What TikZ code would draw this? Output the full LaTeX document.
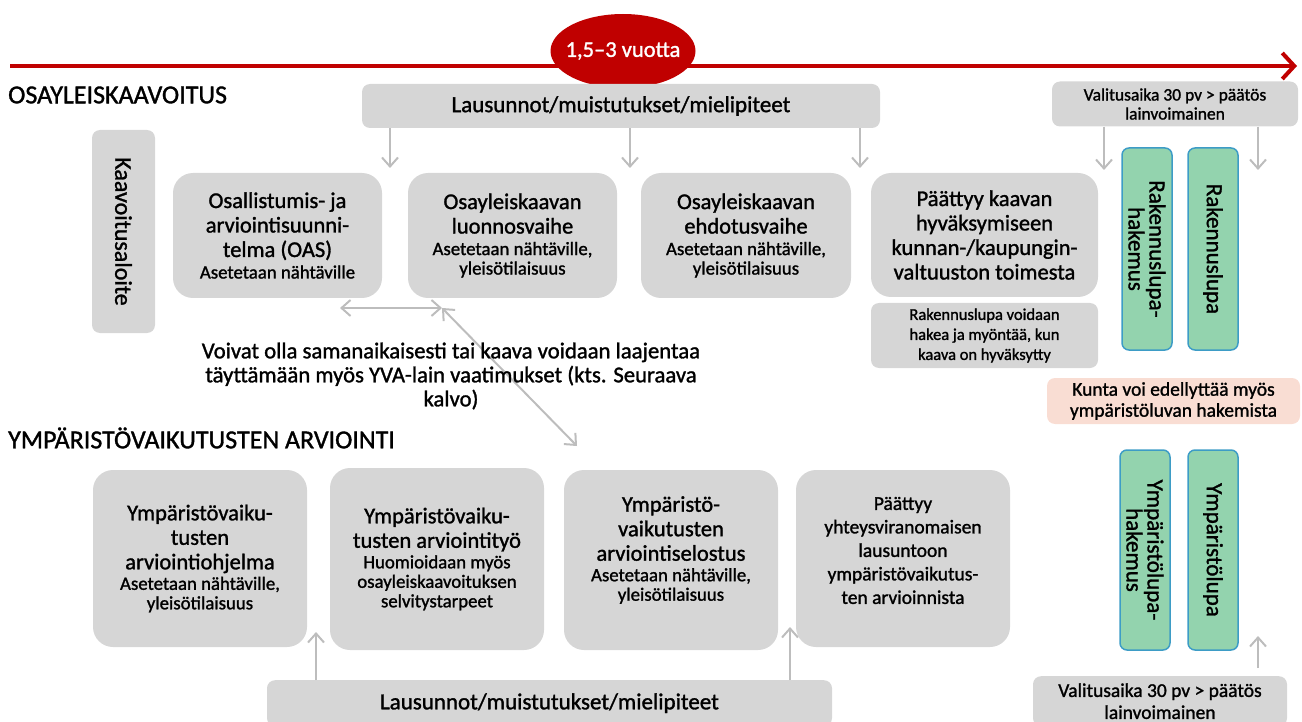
\documentclass[tikz,border=0pt]{standalone}
\usepackage{fontspec}
\setmainfont{Carlito}[FakeBold=1.3]
\usetikzlibrary{arrows.meta,shapes.geometric}
\definecolor{boxgray}{HTML}{D6D6D6}
\definecolor{argray}{HTML}{BDBDBD}
\definecolor{darkred}{HTML}{C00000}
\definecolor{greenfill}{HTML}{93D3AE}
\definecolor{greenline}{HTML}{3D9CC6}
\definecolor{pinkfill}{HTML}{F9DDD3}
\newcommand{\bigf}{\fontsize{22.5}{24.5}\selectfont}
\newcommand{\smf}{\fontsize{18.8}{20}\selectfont}
\tikzset{
  x=1pt, y=-1pt,
  bigbox/.style={fill=boxgray, rounded corners=20pt, align=center, inner sep=2pt, font=\bigf},
  boxtext/.style={align=center, inner sep=0pt, font=\bigf},
  flat/.style={fill=boxgray, rounded corners=8pt, align=center, inner sep=2pt},
  greenbox/.style={fill=greenfill, draw=greenline, line width=1.5pt, rounded corners=7pt, minimum width=50pt},
  pinkbox/.style={fill=pinkfill, rounded corners=8pt, align=center, inner sep=2pt},
  garrow/.style={draw=argray, line width=2pt, -{Straight Barb[length=9pt,width=16pt]}},
  gdarrow/.style={draw=argray, line width=2pt, {Straight Barb[length=9pt,width=16pt]}-{Straight Barb[length=9pt,width=16pt]}},
  heading/.style={font=\fontsize{26}{28}\selectfont, anchor=west, inner sep=0pt},
  vtext/.style={rotate=-90, align=center, font=\fontsize{23}{21}\selectfont, inner sep=0pt},
}
\begin{document}
\begin{tikzpicture}
\useasboundingbox (0,0) rectangle (1302,722);

% timeline
\coordinate (tlstart) at (10,66);
\coordinate (tlend) at (1297,66);
\draw[darkred, line width=4pt, -{Straight Barb[length=12pt,width=26pt,line width=4pt]}] (tlstart) -- (tlend);
\node[ellipse, fill=darkred, minimum width=145pt, minimum height=74pt, inner sep=0pt] (dur) at (623,51) {};
\node[text=white, inner sep=0pt, font=\fontsize{22.5}{22}\selectfont] (durT) at (dur) {1,5–3 vuotta};

% headings
\node[heading] (h1) at (8,95) {OSAYLEISKAAVOITUS};
\node[heading] (h2) at (8,438) {YMPÄRISTÖVAIKUTUSTEN ARVIOINTI};

% top row
\node[flat, minimum width=518pt, minimum height=44pt, font=\fontsize{23}{25}\selectfont] (lausTop) at (621,106) {Lausunnot/muistutukset/mielipiteet};
\node[flat, minimum width=246pt, minimum height=45pt, font=\fontsize{17.5}{19}\selectfont] (valTop) at (1175,104) {Valitusaika 30 pv > päätös\\lainvoimainen};

\node[flat, minimum width=63pt, minimum height=203pt] (aloite) at (123.5,231.5) {};
\node[vtext, font=\fontsize{24}{21}\selectfont] (aloiteT) at (aloite) {Kaavoitusaloite};

\node[bigbox, minimum width=209pt, minimum height=125pt] (oas) at (277.5,235.5)
  {Osallistumis- ja\\arviointisuunni-\\telma (OAS)\\[-3pt]{\smf Asetetaan nähtäville}};
\node[bigbox, minimum width=209pt, minimum height=125pt] (luon) at (512.5,235.5)
  {Osayleiskaavan\\luonnosvaihe\\[-3pt]{\smf Asetetaan nähtäville,}\\[-5pt]{\smf yleisötilaisuus}};
\node[bigbox, minimum width=210pt, minimum height=125pt] (ehd) at (746,235.5)
  {Osayleiskaavan\\ehdotusvaihe\\[-3pt]{\smf Asetetaan nähtäville,}\\[-5pt]{\smf yleisötilaisuus}};
\node[bigbox, minimum width=227pt, minimum height=124pt] (paat) at (984.5,235)
  {Päättyy kaavan\\hyväksymiseen\\kunnan-/kaupungin-\\valtuuston toimesta};
\node[flat, minimum width=227pt, minimum height=65pt, font=\fontsize{16.5}{20}\selectfont] (rvoi) at (984.5,335.5)
  {Rakennuslupa voidaan\\hakea ja myöntää, kun\\kaava on hyväksytty};

\node[greenbox, minimum height=202pt] (rlh) at (1147,249) {};
\node[vtext] at (rlh) {Rakennuslupa-\\hakemus};
\node[greenbox, minimum height=202pt] (rl) at (1213,249) {};
\node[vtext] at (rl) {Rakennuslupa};

\node[pinkbox, minimum width=253pt, minimum height=46pt, font=\fontsize{19.5}{21}\selectfont] (kunta) at (1173.5,401)
  {Kunta voi edellyttää myös\\ympäristöluvan hakemista};

% arrows top
\coordinate (a1) at (390,168);
\coordinate (a2) at (630,168);
\coordinate (a3) at (860,168);
\draw[garrow] (lausTop.south -| a1) -- (a1);
\draw[garrow] (lausTop.south -| a2) -- (a2);
\draw[garrow] (lausTop.south -| a3) -- (a3);
\coordinate (a4) at (1104,170);
\coordinate (a5) at (1258,170);
\draw[garrow] (valTop.south -| a4) -- (a4);
\draw[garrow] (valTop.south -| a5) -- (a5);

% link arrows
\coordinate (lkL) at (340,308);
\coordinate (lkM) at (442,308);
\coordinate (lkB) at (577,446);
\draw[gdarrow] (lkL) -- (lkM);
\draw[gdarrow] (lkM) -- (lkB);

\node[align=center, font=\fontsize{22.7}{24}\selectfont, inner sep=0pt] (note) at (451,376)
  {Voivat olla samanaikaisesti tai kaava voidaan laajentaa\\täyttämään myös YVA-lain vaatimukset (kts. Seuraava\\kalvo)};

% bottom row
\node[bigbox, minimum width=214pt, minimum height=177pt] (b1) at (200,558.5)
  {Ympäristövaiku-\\tusten\\arviointiohjelma\\[-4pt]{\smf Asetetaan nähtäville,}\\[-5pt]{\smf yleisötilaisuus}};
\node[bigbox, minimum width=214pt, minimum height=182pt] (b2) at (437,559)
  {Ympäristövaiku-\\tusten arviointityö\\[-4pt]{\smf Huomioidaan myös}\\[-5pt]{\smf osayleiskaavoituksen}\\[-5pt]{\smf selvitystarpeet}};
\node[bigbox, minimum width=214pt, minimum height=180pt] (b3) at (671,560) {};
\node[boxtext] (b3t) at ([yshift=10pt]b3.center)
  {Ympäristö-\\vaikutusten\\arviointiselostus\\[-4pt]{\smf Asetetaan nähtäville,}\\[-5pt]{\smf yleisötilaisuus}};
\node[bigbox, minimum width=214pt, minimum height=177pt] (b4) at (903,558.5) {};
\node[boxtext, font=\fontsize{19.5}{23.5}\selectfont] (b4t) at ([yshift=8pt]b4.center)
  {Päättyy\\yhteysviranomaisen\\lausuntoon\\ympäristövaikutus-\\ten arvioinnista};

\node[flat, minimum width=565pt, minimum height=46pt, font=\fontsize{23}{25}\selectfont, anchor=north] (lausBot) at (549.5,680) {Lausunnot/muistutukset/mielipiteet};
\node[flat, minimum width=254pt, minimum height=50pt, font=\fontsize{19.5}{22}\selectfont, anchor=north] (valBot) at (1160,676) {Valitusaika 30 pv > päätös\\lainvoimainen};

\node[greenbox, minimum height=200pt] (ylh) at (1145,550) {};
\node[vtext] at (ylh) {Ympäristölupa-\\hakemus};
\node[greenbox, minimum height=200pt] (yl) at (1213,550) {};
\node[vtext] at (yl) {Ympäristölupa};

% arrows bottom
\coordinate (c1) at (316,632);
\coordinate (c2) at (790,627);
\coordinate (c3) at (1258,636);
\draw[garrow] (lausBot.north -| c1) -- (c1);
\draw[garrow] (lausBot.north -| c2) -- (c2);
\draw[garrow] ([yshift=8pt]valBot.north -| c3) -- (c3);
\end{tikzpicture}
\end{document}
